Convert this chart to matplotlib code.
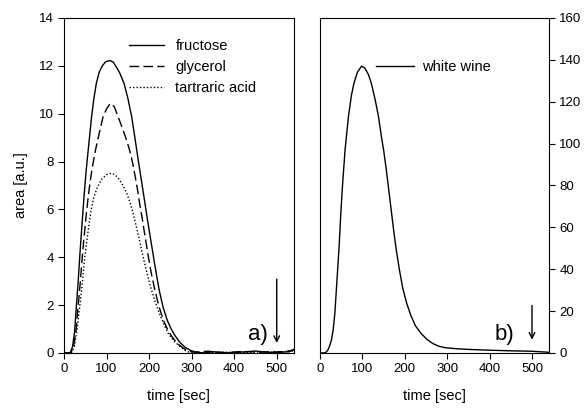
import numpy as np
import matplotlib.pyplot as plt

plt.rcParams['font.family'] = ['Liberation Sans', 'DejaVu Sans']

# panel a) - standard solutions, area vs time
t_fru = [0, 10, 15, 20, 25, 29, 33, 37, 42, 47, 52, 57, 61, 65, 70, 76, 83, 90, 98,
         108, 116, 123, 131, 141, 150, 159, 167, 175, 182, 189, 195, 200, 205, 210,
         217, 224, 233, 243, 252, 261, 272, 284, 298, 312, 330, 350, 370, 390, 410,
         430, 450, 470, 490, 510, 530, 540]
fructose = [0, 0, 0.02, 0.26, 0.9, 1.94, 2.9, 4.03, 5.3, 6.53, 7.6, 8.5, 9.2, 9.9, 10.6,
            11.27, 11.75, 12.0, 12.17, 12.22, 12.15, 11.95, 11.7, 11.27, 10.65, 9.88,
            8.95, 8.0, 7.2, 6.4, 5.7, 5.15, 4.6, 4.05, 3.3, 2.6, 1.9, 1.35, 1.0, 0.72,
            0.45, 0.24, 0.1, 0.02, 0.0, 0.05, 0.02, 0.0, 0.03, 0.05, 0.08, 0.04, 0.02,
            0.03, 0.05, 0.15]

t_gly = [0, 10, 16, 22, 28, 33, 38, 43, 48, 53, 57, 61, 66, 74, 83, 92, 100, 109, 118,
         127, 136, 146, 153, 160, 166, 173, 179, 184, 188, 193, 198, 205, 212, 223,
         234, 243, 253, 266, 280, 292, 305, 320, 340, 360, 380, 400, 420, 440, 460,
         480, 500, 520, 540]
glycerol = [0, 0, 0.02, 0.2, 0.9, 1.94, 2.9, 4.03, 5.0, 5.9, 6.53, 7.1, 7.7, 8.48, 9.2,
            9.88, 10.2, 10.43, 10.3, 9.88, 9.45, 8.95, 8.55, 8.05, 7.5, 6.8, 6.1, 5.6,
            5.15, 4.6, 4.05, 3.35, 2.75, 1.95, 1.35, 1.0, 0.7, 0.4, 0.2, 0.08, 0.03, 0.05,
            0.07, 0.03, 0.01, 0.04, 0.06, 0.05, 0.03, 0.05, 0.04, 0.06, 0.12]

t_tar = [0, 10, 18, 24, 30, 37, 43, 49, 56, 63, 70, 78, 88, 100, 111, 120, 130, 140,
         148, 154, 160, 167, 175, 183, 192, 202, 214, 227, 236, 245, 258, 273, 285,
         295, 320, 350, 380, 420, 460, 500, 540]
tartaric = [0, 0, 0.02, 0.26, 0.9, 1.94, 2.9, 4.03, 5.0, 5.9, 6.5, 6.9, 7.25, 7.45, 7.51,
            7.45, 7.25, 6.95, 6.65, 6.35, 6.0, 5.5, 4.9, 4.25, 3.55, 2.85, 2.15, 1.52,
            1.15, 0.82, 0.5, 0.26, 0.1, 0.02, 0.0, 0.02, 0.03, 0.02, 0.04, 0.03, 0.08]

# panel b) - white wine, area vs time
t_wine = [0, 10, 14, 18, 22, 27, 31, 35, 40, 45, 49, 53, 59, 67, 74, 80, 88, 98, 106,
          114, 121, 130, 138, 145, 150, 156, 162, 168, 174, 180, 187, 195, 204, 214,
          225, 238, 252, 266, 280, 295, 310, 330, 360, 400, 450, 500, 540]
wine = [0, 0, 0.3, 1.2, 3, 6.2, 11, 19, 34.9, 50.8, 66.7, 80, 96.9, 112.8, 123, 128.8,
        134, 137, 136, 133, 128.8, 121, 112.8, 103, 96.9, 88, 78, 68, 58, 49, 40, 31,
        24, 18, 13, 9.4, 6.5, 4.5, 3.2, 2.5, 2.2, 1.9, 1.6, 1.3, 1.0, 0.8, 0.3]

fig = plt.figure(figsize=(5.84, 4.08), dpi=100)
ax1 = fig.add_axes([0.1096, 0.135, 0.3934, 0.821])
ax2 = fig.add_axes([0.548, 0.135, 0.392, 0.821])

lw = 1.0
ax1.plot(t_fru, fructose, color='black', lw=lw, ls='-', label='fructose')
ax1.plot(t_gly, glycerol, color='black', lw=lw, ls=(0, (7, 3)), label='glycerol')
ax1.plot(t_tar, tartaric, color='black', lw=lw, ls=(0, (1, 1.5)), label='tartraric acid')
ax1.set_xlim(0, 540)
ax1.set_ylim(0, 14)
ax1.set_xticks([0, 100, 200, 300, 400, 500])
ax1.set_yticks(np.arange(0, 15, 2))
ax1.tick_params(direction='out', top=False, right=False, labelsize=9.5, length=4)
ax1.set_xlabel('time [sec]', fontsize=10.5, labelpad=10)
ax1.set_ylabel('area [a.u.]', fontsize=10.5, labelpad=8)
ax1.legend(loc='upper left', bbox_to_anchor=(0.285, 0.936), frameon=False, fontsize=10.5,
           borderpad=0, borderaxespad=0, handlelength=2.4, handletextpad=0.75,
           labelspacing=0.47)
ax1.text(480, 0.75, 'a)', fontsize=16, ha='right', va='center')
ax1.annotate('', xy=(500, 0.3), xytext=(500, 3.2),
             arrowprops=dict(arrowstyle='->', color='black', lw=1.0))

ax2.plot(t_wine, wine, color='black', lw=lw, label='white wine')
ax2.set_xlim(0, 540)
ax2.set_ylim(0, 160)
ax2.set_xticks([0, 100, 200, 300, 400, 500])
ax2.set_yticks(np.arange(0, 161, 20))
ax2.yaxis.tick_right()
ax2.tick_params(direction='out', top=False, left=False, labelsize=9.5, length=4)
ax2.set_xlabel('time [sec]', fontsize=10.5, labelpad=10)
ax2.legend(loc='upper left', bbox_to_anchor=(0.245, 0.874), frameon=False, fontsize=10.5,
           borderpad=0, borderaxespad=0, handlelength=2.6, handletextpad=0.55)
ax2.text(458, 9, 'b)', fontsize=16, ha='right', va='center')
ax2.annotate('', xy=(500, 5), xytext=(500, 24),
             arrowprops=dict(arrowstyle='->', color='black', lw=1.0))

fig.savefig('out.png', dpi=100)
